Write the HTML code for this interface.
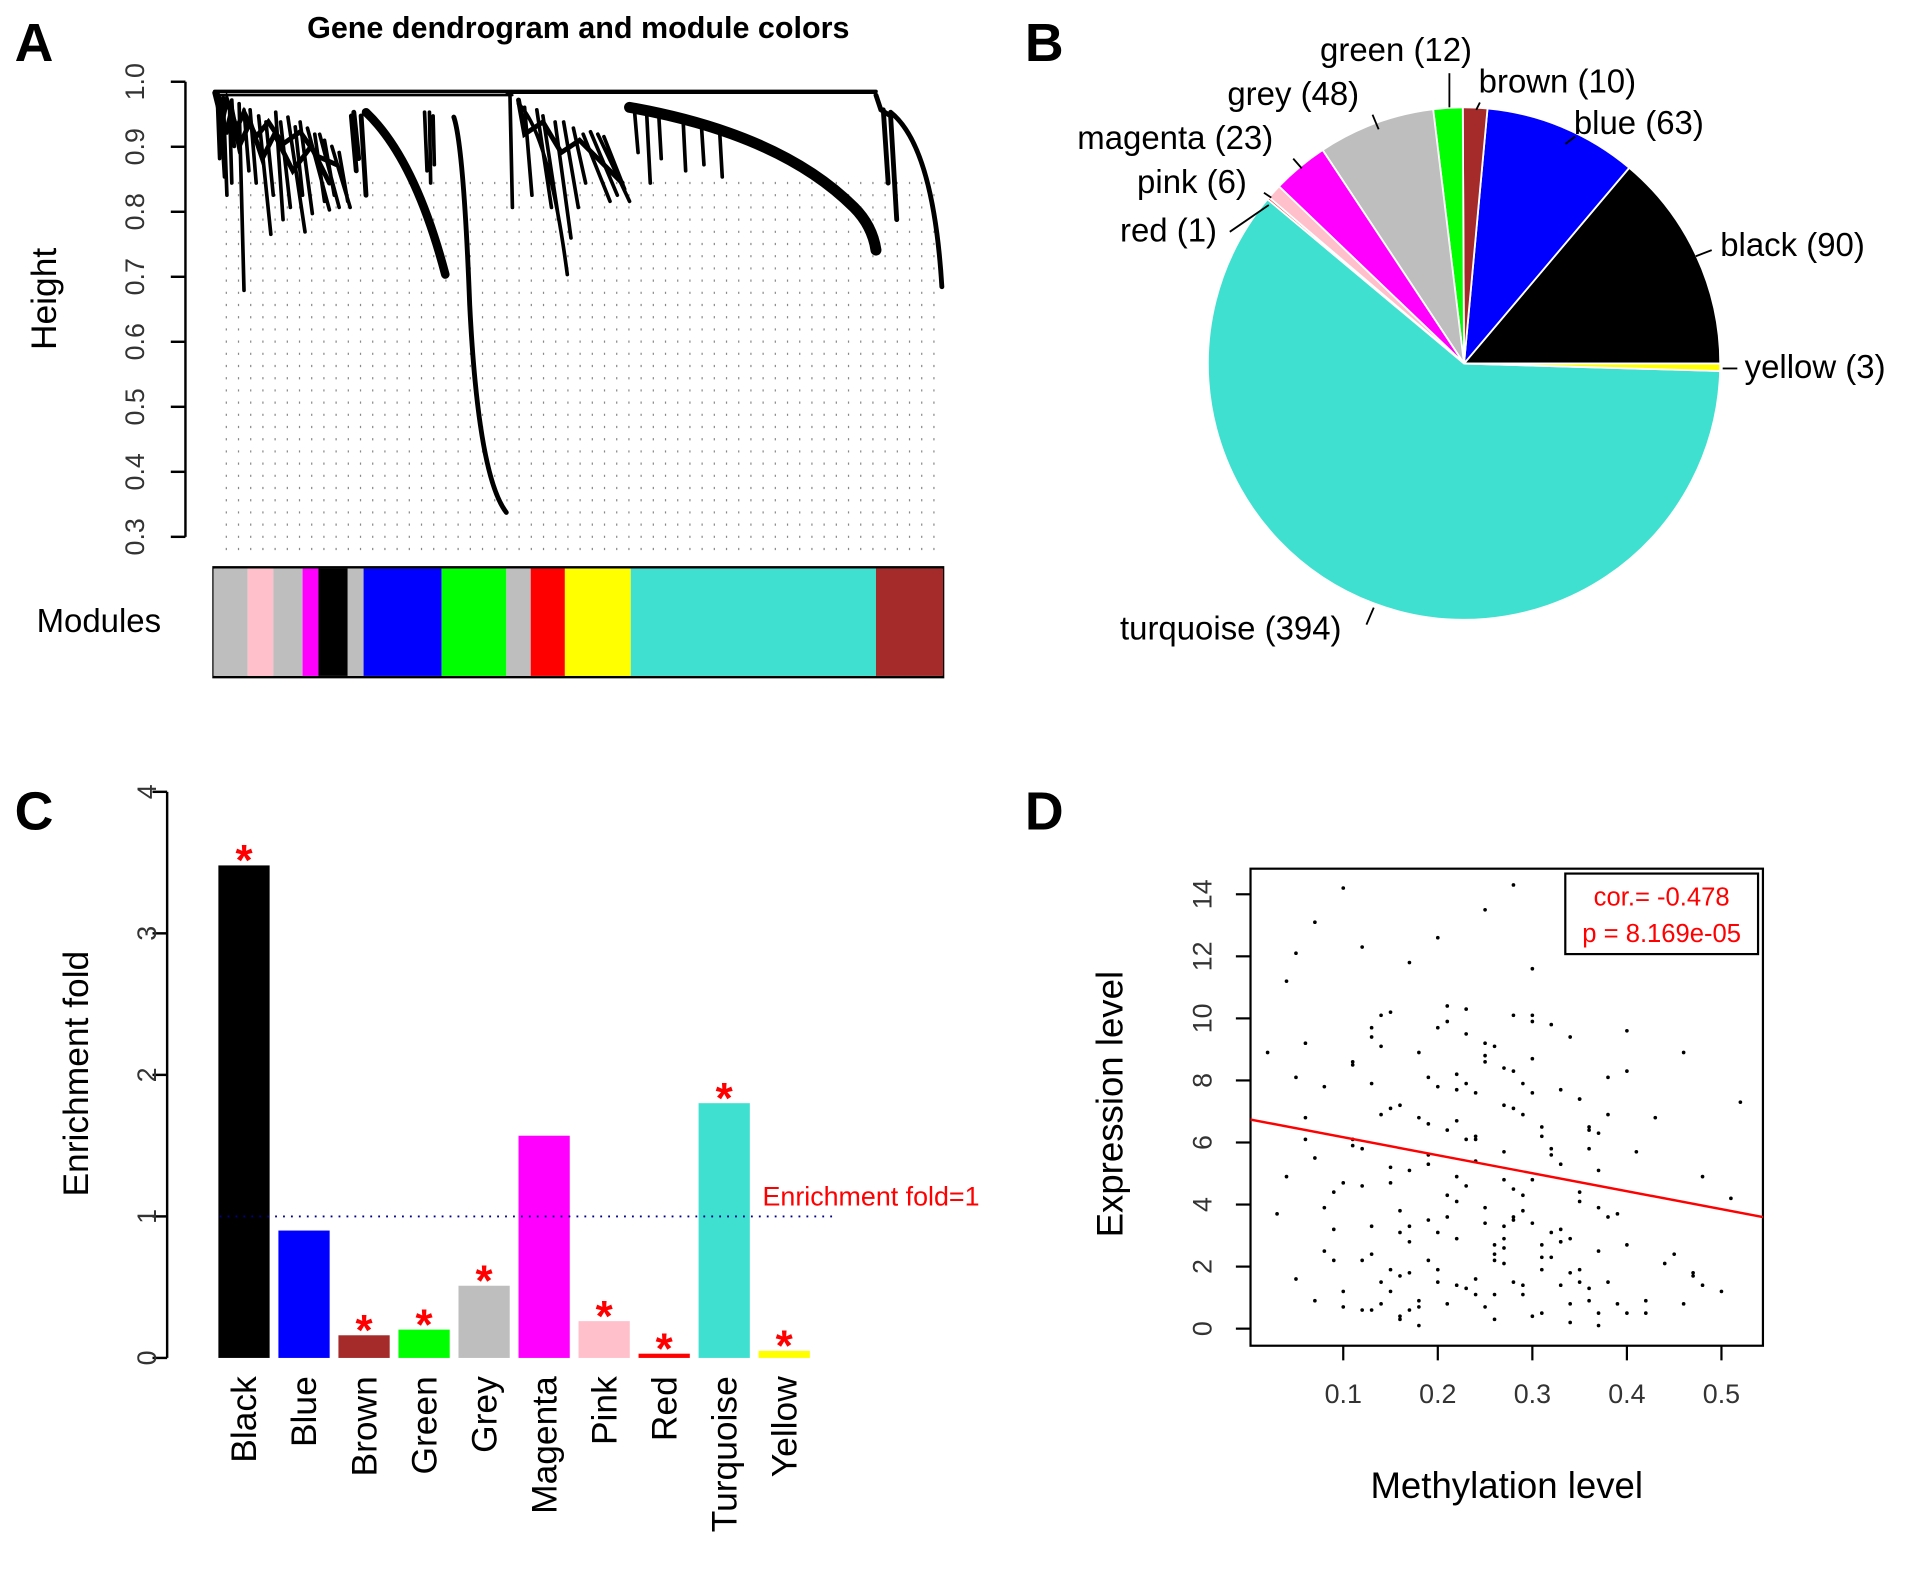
<!DOCTYPE html>
<html><head><meta charset="utf-8"><style>
html,body{margin:0;padding:0;background:#fff}
svg{display:block}
text{font-family:"Liberation Sans",Arial,sans-serif}
</style></head><body>
<svg id="fig" width="1913" height="1569" viewBox="0 0 1568 1286" preserveAspectRatio="none" xmlns="http://www.w3.org/2000/svg">
<g>
<text x="12" y="50" font-size="44" font-weight="bold">A</text>
<text x="474" y="31" font-size="25" font-weight="bold" text-anchor="middle">Gene dendrogram and module colors</text>
<g id="dotgrid"></g>
<g id="aAxis"></g>
<text transform="translate(46,245) rotate(-90)" font-size="29" text-anchor="middle">Height</text>
<g fill="none" stroke="#000" stroke-linecap="round">
<path d="M176,75 H718" stroke-width="3"/>
<path d="M176,78 H420 M415,76 H718" stroke-width="2"/>
<path d="M178,78 L180,130 M183,80 L186,160 M190,82 L192,120 M196,85 L200,238 M205,90 L210,150 M212,95 L222,192 M226,92 L232,180 M236,96 L250,190 M246,100 L256,175 M252,105 L270,172 M262,110 L278,170 M272,120 L287,170 M180,80 L184,145 M188,84 L190,150 M200,90 L204,140 M218,100 L224,160 M230,100 L238,170 M242,104 L248,160 M258,110 L266,165 M266,115 L274,160 M278,125 L285,165" stroke-width="3"/>
<path d="M178,76 L185,110 L190,90 L196,120 L205,100 L215,130 L225,110 L240,140 L255,120 L270,150" stroke-width="4"/>
<path d="M176,76 L182,100 L186,82 L194,105 L200,92 L210,112 L220,100 L232,118 L246,108 L260,128 L276,135" stroke-width="4"/>
<path d="M300,92 Q340,130 365,225" stroke-width="7"/>
<path d="M288,95 L292,140 M296,95 L300,160 M290,92 L294,130" stroke-width="4"/>
<path d="M348,92 L350,140 M355,95 L356,135 M352,92 L353,150" stroke-width="3"/>
<path d="M372,96 Q380,120 385,250 Q392,390 415,420" stroke-width="4"/>
<path d="M418,78 L420,170 M425,85 Q450,110 465,225 M440,90 L452,170 M455,100 L468,195 M470,105 L480,150 M478,110 L500,165 M490,110 L516,165 M430,88 L436,160 M445,95 L458,180 M462,100 L474,170 M484,108 L506,160 M495,112 L512,155" stroke-width="3"/>
<path d="M425,82 L430,110 L445,100 L460,125 L475,115 L495,135 L510,150" stroke-width="4"/>
<path d="M516,88 Q640,110 700,170 Q715,185 718,205" stroke-width="9"/>
<path d="M520,90 L523,125 M530,92 L533,150 M560,100 L562,140 M590,110 L592,145 M540,95 L542,130 M575,104 L577,135" stroke-width="3"/>
<path d="M718,78 L722,90 L730,95 L735,180 M730,92 Q765,120 772,235 M724,90 L728,150" stroke-width="4"/>
</g>
<rect x="175" y="465" width="598" height="90" fill="none" stroke="#000" stroke-width="2"/>
<g id="modBar"></g>
<text x="30" y="518" font-size="27">Modules</text>
</g>

<g>
<text x="840" y="50" font-size="44" font-weight="bold">B</text>
<g id="pie"></g>
<g font-size="27">
<text x="1082" y="50">green (12)</text>
<text x="1212" y="76">brown (10)</text>
<text x="1290" y="110">blue (63)</text>
<text x="1006" y="86">grey (48)</text>
<text x="883" y="122">magenta (23)</text>
<text x="932" y="158">pink (6)</text>
<text x="918" y="198">red (1)</text>
<text x="1410" y="210">black (90)</text>
<text x="1430" y="310">yellow (3)</text>
<text x="918" y="524">turquoise (394)</text>
</g>
<g stroke="#000" stroke-width="1.5">
<line x1="1188" y1="60" x2="1188" y2="88"/><line x1="1213" y1="84" x2="1210" y2="90"/>
<line x1="1291" y1="112" x2="1283" y2="118"/><line x1="1125" y1="94" x2="1130" y2="106"/>
<line x1="1060" y1="130" x2="1067" y2="138"/><line x1="1036" y1="158" x2="1042" y2="162"/>
<line x1="1008" y1="190" x2="1040" y2="168"/><line x1="1403" y1="205" x2="1390" y2="210"/>
<line x1="1424" y1="302" x2="1412" y2="302"/><line x1="1120" y1="512" x2="1126" y2="498"/>
</g>
</g>

<g>
<text x="12" y="680" font-size="44" font-weight="bold">C</text>
<text transform="translate(72,880) rotate(-90)" font-size="29" text-anchor="middle">Enrichment fold</text>
<g id="barChart"></g>
</g>

<g>
<text x="840" y="680" font-size="44" font-weight="bold">D</text>
<rect x="1025" y="712" width="420" height="391" fill="none" stroke="#000" stroke-width="1.8"/>
<text x="1235" y="1228" font-size="30" text-anchor="middle">Methylation level</text>
<text transform="translate(920,905) rotate(-90)" font-size="30" text-anchor="middle">Expression level</text>
<g id="scatter"></g>
<rect x="1283" y="716" width="158" height="66" fill="#fff" stroke="#000" stroke-width="1.8"/>
<text x="1362" y="742" font-size="21" fill="#f00" text-anchor="middle">cor.= -0.478</text>
<text x="1362" y="772" font-size="21" fill="#f00" text-anchor="middle">p = 8.169e-05</text>
</g>
</svg>
<script>
const NS='http://www.w3.org/2000/svg';
function mk(tag,attrs,parent){const e=document.createElementNS(NS,tag);for(const k in attrs)e.setAttribute(k,attrs[k]);parent.appendChild(e);return e;}

const heightTicks=[0.3,0.4,0.5,0.6,0.7,0.8,0.9,1.0];
const moduleColors=['#bebebe','#ffc0cb','#bebebe','#ff00ff','#000000','#bebebe','#0000ff','#00ff00','#bebebe','#ff0000','#ffff00','#40e0d0','#a52a2a'];
const moduleWidths=[28,21,24,13,24,13,64,53,20,28,54,201,55];

const pieNames=['black','blue','brown','green','grey','magenta','pink','red','turquoise','yellow'];
const pieCounts=[90,63,10,12,48,23,6,1,394,3];
const pieColors=['#000000','#0000ff','#a52a2a','#00ff00','#bebebe','#ff00ff','#ffc0cb','#ff0000','#40e0d0','#ffff00'];

const barCategories=['Black','Blue','Brown','Green','Grey','Magenta','Pink','Red','Turquoise','Yellow'];
const barValues=[3.48,0.9,0.16,0.2,0.51,1.57,0.26,0.03,1.8,0.05];
const barColors=['#000000','#0000ff','#a52a2a','#00ff00','#bebebe','#ff00ff','#ffc0cb','#ff0000','#40e0d0','#ffff00'];
const barSignificant=[true,false,true,true,true,false,true,true,true,true];
const barTicks=[0,1,2,3,4];
const refLine=1;

const methylation=[0.02,0.03,0.04,0.05,0.05,0.06,0.07,0.07,0.08,0.09,0.1,0.1,0.11,0.12,0.12,0.13,0.13,0.14,0.14,0.15,0.15,0.16,0.16,0.17,0.17,0.18,0.18,0.19,0.19,0.2,0.2,0.21,0.21,0.22,0.22,0.23,0.23,0.24,0.24,0.25,0.25,0.26,0.26,0.27,0.27,0.28,0.28,0.29,0.29,0.3,0.3,0.31,0.31,0.32,0.32,0.33,0.33,0.34,0.35,0.35,0.36,0.36,0.37,0.37,0.38,0.39,0.4,0.4,0.41,0.42,0.43,0.45,0.46,0.47,0.48,0.5,0.51,0.52,0.06,0.08,0.11,0.13,0.15,0.17,0.19,0.21,0.23,0.25,0.27,0.29,0.31,0.33,0.35,0.37,0.39,0.12,0.14,0.16,0.18,0.2,0.22,0.24,0.26,0.28,0.3,0.32,0.34,0.36,0.05,0.09,0.1,0.15,0.18,0.21,0.24,0.27,0.3,0.33,0.36,0.4,0.44,0.48,0.07,0.13,0.19,0.25,0.28,0.31,0.37,0.42,0.47,0.04,0.11,0.16,0.22,0.26,0.29,0.34,0.38,0.46,0.23,0.27,
0.14,0.15,0.17,0.18,0.2,0.21,0.22,0.23,0.25,0.26,0.27,0.28,0.29,0.3,0.31,0.33,0.35,0.36,0.37,0.38,0.12,0.13,0.16,0.19,0.22,0.24,0.26,0.27,0.28,0.29,0.3,0.32,0.34,0.36,0.37,0.1,0.12,0.15,0.17,0.2,0.23,0.25,0.28,0.31,0.34,0.08,0.11,0.14,0.17,0.19,0.21,0.24,0.27,0.3,0.33,0.35,0.38,0.4,0.06,0.09,0.13,0.16,0.2,0.22,0.25,0.28,0.3,0.32,0.35];
const expression=[8.9,3.7,11.2,12.1,8.1,9.2,13.1,5.5,7.8,3.2,14.2,1.2,8.5,12.3,5.8,2.4,9.7,6.9,1.5,4.7,10.2,0.4,7.2,3.3,11.8,0.1,8.9,2.2,5.3,12.6,9.7,0.8,6.4,8.2,2.9,10.3,4.6,1.6,7.6,13.5,3.9,0.3,9.1,5.7,2.1,14.3,7.1,1.1,4.3,11.6,8.7,0.5,6.2,3.1,9.8,2.8,5.3,0.2,7.4,4.4,12.8,1.3,6.3,0.1,8.1,3.7,9.6,2.7,5.7,0.9,6.8,2.4,8.9,1.8,4.9,1.2,4.2,7.3,6.1,2.5,8.6,7.9,1.2,5.1,6.6,4.3,9.5,0.7,3.3,6.9,2.3,7.7,1.5,3.9,0.8,4.6,9.1,3.8,6.8,1.9,7.7,5.4,2.2,8.3,3.4,5.6,2.9,6.5,1.6,4.4,0.7,7.1,0.9,3.6,6.2,2.6,4.8,1.4,5.8,0.5,2.1,1.4,0.9,0.6,3.5,8.6,10.1,2.7,5.1,0.5,1.7,4.9,5.9,0.3,4.1,2.7,7.9,9.4,3.6,0.8,6.1,7.2,10.1,1.9,
1.8,0.7,3.1,9.9,1.4,7.9,3.4,1.1,2.9,1.5,3.8,0.4,6.5,2.8,1.9,0.9,2.5,6.9,0.6,3.3,1.7,8.1,4.9,1.1,2.4,4.8,3.5,1.4,7.6,2.3,1.8,6.4,0.5,4.7,2.2,5.2,0.6,7.8,1.3,9.2,4.5,1.9,0.8,3.9,6.1,0.8,2.8,5.6,10.4,6.1,8.4,9.9,3.2,4.1,1.5,8.3,6.8,2.2,9.4,3.1,1.5,6.7,8.8,3.6,10.1,5.8,7.4,6.4,2.0];
const xTicks=[0.1,0.2,0.3,0.4,0.5];
const yTicks=[0,2,4,6,8,10,12,14];
const fitIntercept=6.75;
const fitSlope=-5.8;

(function(){
 const g=document.getElementById('dotgrid');
 let s='';
 for(let x=185;x<=772;x+=10){for(let y=150;y<=455;y+=10){s+=`M${x},${y}h1`;}}
 const p=mk('path',{d:s,stroke:'#888',"stroke-width":1.8,fill:'none'},g);
 
 
 const ax=document.getElementById('aAxis');
 const yA=v=>440-(v-0.3)/0.7*373;
 const ln=mk('line',{x1:152,x2:152,y1:yA(0.3),y2:yA(1.0),stroke:'#000','stroke-width':2},ax);
 
 
 heightTicks.forEach(v=>{
  const t=mk('line',{x1:140,x2:152,y1:yA(v),y2:yA(v),stroke:'#000','stroke-width':2},ax);
  
  
  const tx=mk('text',{transform:`translate(118,${yA(v)}) rotate(-90)`,'font-size':22,'text-anchor':'middle',fill:'#333'},ax);
  tx.textContent=v.toFixed(1);
  
  
 });
 const mb=document.getElementById('modBar');
 let x=175;
 moduleColors.forEach((c,i)=>{
  const r=mk('rect',{x:x,y:466,width:moduleWidths[i],height:88,fill:c},mb);
  
  
  x+=moduleWidths[i];
 });
})();

(function(){
 const g=document.getElementById('pie');
 const cx=1200,cy=298,R=210;
 const total=pieCounts.reduce((a,b)=>a+b,0);
 let a0=0;
 pieCounts.forEach((c,i)=>{
  const a1=a0+c/total*2*Math.PI;
  const x0=cx+R*Math.cos(a0),y0=cy-R*Math.sin(a0),x1=cx+R*Math.cos(a1),y1=cy-R*Math.sin(a1);
  const large=(a1-a0)>Math.PI?1:0;
  const p=mk('path',{d:`M${cx},${cy}L${x0},${y0}A${R},${R} 0 ${large} 0 ${x1},${y1}Z`,fill:pieColors[i],stroke:'#fff','stroke-width':1.5},g);
  
  
  a0=a1;
 });
})();

(function(){
 const g=document.getElementById('barChart');
 const y=v=>1113-v*116;
 const xc=i=>200+i*49.2;
 const ax=mk('line',{x1:137,x2:137,y1:y(0),y2:y(4),stroke:'#000','stroke-width':2},g);
 
 
 barTicks.forEach(v=>{
  const t=mk('line',{x1:125,x2:137,y1:y(v),y2:y(v),stroke:'#000','stroke-width':2},g);
  
  
  const tx=mk('text',{transform:`translate(128,${y(v)}) rotate(-90)`,'font-size':22,'text-anchor':'middle',fill:'#333'},g);
  tx.textContent=v;
  
  
 });
 barValues.forEach((v,i)=>{
  const r=mk('rect',{x:xc(i)-21,y:y(v),width:42,height:y(0)-y(v),fill:barColors[i]},g);
  
  
  if(barSignificant[i]){
   const s=mk('text',{x:xc(i),y:y(v)+8,'font-size':36,'text-anchor':'middle',fill:'#f00','font-weight':'bold'},g);
   s.textContent='*';
   
   
  }
  const l=mk('text',{transform:`translate(${xc(i)+10},1128) rotate(-90)`,'font-size':29,'text-anchor':'end'},g);
  l.textContent=barCategories[i];
  
  
 });
 const rl=mk('line',{x1:180,x2:685,y1:y(refLine),y2:y(refLine),stroke:'#00008b','stroke-width':1.5,'stroke-dasharray':'1.5,5'},g);
 
 
 const rt=mk('text',{x:625,y:y(refLine)-9,'font-size':22,fill:'#f00'},g);
 rt.textContent='Enrichment fold='+refLine;
 
 
})();

(function(){
 const g=document.getElementById('scatter');
 const X=v=>1023.5+v*775;
 const Y=v=>1089-v*25.43;
 xTicks.forEach(v=>{
  const t=mk('line',{x1:X(v),x2:X(v),y1:1103,y2:1115,stroke:'#000','stroke-width':1.8},g);
  
  
  const tx=mk('text',{x:X(v),y:1150,'font-size':22,'text-anchor':'middle',fill:'#333'},g);
  tx.textContent=v.toFixed(1);
  
  
 });
 yTicks.forEach(v=>{
  const t=mk('line',{x1:1013,x2:1025,y1:Y(v),y2:Y(v),stroke:'#000','stroke-width':1.8},g);
  
  
  const tx=mk('text',{transform:`translate(993,${Y(v)}) rotate(-90)`,'font-size':22,'text-anchor':'middle',fill:'#333'},g);
  tx.textContent=v;
  
  
 });
 methylation.forEach((m,i)=>{
  const c=mk('circle',{cx:X(m),cy:Y(expression[i]),r:1.5,fill:'#000'},g);
  
  
 });
 const x0=(1025-1023.5)/775,x1=(1445-1023.5)/775;
 const fl=mk('line',{x1:X(x0),y1:Y(fitIntercept+fitSlope*x0),x2:X(x1),y2:Y(fitIntercept+fitSlope*x1),stroke:'#f00','stroke-width':2},g);
 
 
})();
</script>
</body></html>
